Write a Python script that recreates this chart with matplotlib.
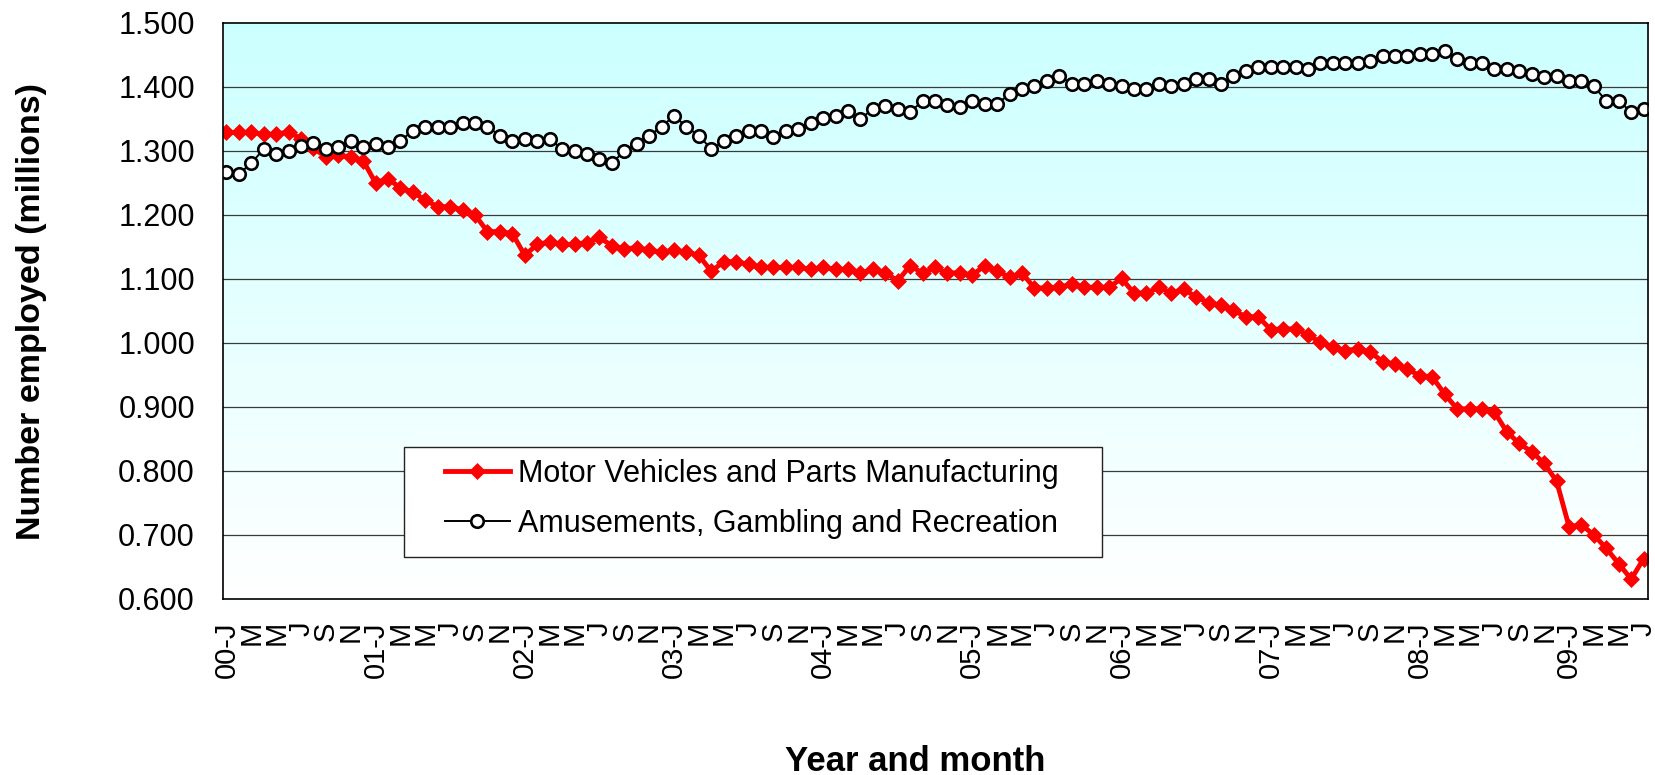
import numpy as np
import matplotlib
matplotlib.use("Agg")
import matplotlib.pyplot as plt
from matplotlib.patches import Rectangle

plt.rcParams['font.family'] = ['Liberation Sans', 'DejaVu Sans']

# Monthly employment, Jan 2000 - Jul 2009 (millions)
motor_vehicles = [
    1.329, 1.329, 1.329, 1.326, 1.326, 1.330, 1.319, 1.304, 1.291, 1.293, 1.291, 1.285,
    1.250, 1.257, 1.242, 1.236, 1.223, 1.213, 1.213, 1.208, 1.200, 1.174, 1.174, 1.171,
    1.137, 1.154, 1.158, 1.154, 1.154, 1.157, 1.165, 1.152, 1.147, 1.149, 1.145, 1.142,
    1.145, 1.142, 1.137, 1.112, 1.127, 1.127, 1.123, 1.118, 1.118, 1.118, 1.118, 1.115,
    1.118, 1.115, 1.115, 1.109, 1.115, 1.110, 1.097, 1.121, 1.109, 1.118, 1.109, 1.110,
    1.106, 1.121, 1.112, 1.103, 1.109, 1.086, 1.086, 1.087, 1.092, 1.087, 1.087, 1.087,
    1.101, 1.078, 1.078, 1.087, 1.078, 1.084, 1.072, 1.063, 1.059, 1.051, 1.041, 1.041,
    1.021, 1.022, 1.022, 1.013, 1.001, 0.993, 0.988, 0.991, 0.986, 0.971, 0.967, 0.959,
    0.949, 0.947, 0.920, 0.897, 0.897, 0.897, 0.892, 0.861, 0.843, 0.830, 0.812, 0.784,
    0.713, 0.716, 0.700, 0.679, 0.655, 0.631, 0.663,
]
amusements = [
    1.267, 1.264, 1.281, 1.303, 1.296, 1.300, 1.308, 1.312, 1.303, 1.307, 1.316, 1.306,
    1.311, 1.306, 1.316, 1.332, 1.338, 1.338, 1.338, 1.343, 1.343, 1.338, 1.324, 1.315,
    1.318, 1.316, 1.319, 1.303, 1.300, 1.296, 1.288, 1.281, 1.300, 1.311, 1.324, 1.338,
    1.355, 1.338, 1.324, 1.303, 1.315, 1.324, 1.331, 1.331, 1.322, 1.331, 1.335, 1.343,
    1.351, 1.354, 1.362, 1.350, 1.366, 1.370, 1.366, 1.361, 1.378, 1.378, 1.372, 1.369,
    1.378, 1.374, 1.374, 1.389, 1.397, 1.402, 1.409, 1.417, 1.405, 1.405, 1.409, 1.405,
    1.401, 1.397, 1.397, 1.405, 1.402, 1.405, 1.413, 1.413, 1.405, 1.417, 1.425, 1.432,
    1.432, 1.432, 1.432, 1.428, 1.437, 1.437, 1.437, 1.437, 1.440, 1.448, 1.448, 1.448,
    1.452, 1.452, 1.457, 1.443, 1.437, 1.437, 1.428, 1.428, 1.425, 1.420, 1.416, 1.417,
    1.409, 1.409, 1.401, 1.378, 1.378, 1.361, 1.366,
]
series_names = ["Motor Vehicles and Parts Manufacturing",
                "Amusements, Gambling and Recreation"]
years = ["00", "01", "02", "03", "04", "05", "06", "07", "08", "09"]
month_letters = ["J", "M", "M", "J", "S", "N"]  # every second month

n = len(motor_vehicles)
x = np.arange(n)

tick_pos = list(range(0, n, 2))
tick_labels = []
for p in tick_pos:
    yr = years[p // 12]
    m = month_letters[(p % 12) // 2]
    tick_labels.append(f"{yr}-{m}" if p % 12 == 0 else m)

W, H = 1656, 775
fig = plt.figure(figsize=(W / 100, H / 100), dpi=100)
L, R, T, B = 222.7, 1648, 23, 599
ax = fig.add_axes([L / W, 1 - B / H, (R - L) / W, (B - T) / H])

xlim = (-0.3, n - 1 + 0.35)
ylim = (0.6, 1.5)
ax.set_xlim(*xlim)
ax.set_ylim(*ylim)

# vertical cyan-to-white gradient background
grad = np.linspace(0, 1, 256)[:, None]
top_c = np.array([0.80, 1.0, 1.0])
bot_c = np.array([1.0, 1.0, 1.0])
img = top_c[None, None, :] * (1 - grad[:, :, None]) + bot_c[None, None, :] * grad[:, :, None]
img = np.repeat(img, 2, axis=1)
ax.imshow(img, extent=[xlim[0], xlim[1], ylim[0], ylim[1]], aspect='auto',
          origin='upper', zorder=0, interpolation='bilinear')

yticks = np.round(np.arange(0.6, 1.5001, 0.1), 1)
ax.set_yticks(yticks)
ax.set_yticklabels([f"{v:.3f}" for v in yticks])
for v in yticks[1:-1]:
    ax.axhline(v, color='#3a3a3a', lw=0.9, zorder=1)

ax.plot(x, motor_vehicles, color='#ff0000', lw=3.5, marker='D', ms=8.5,
        mfc='#ff0000', mec='#ff0000', mew=0.5, zorder=3, label=series_names[0])
ax.plot(x, amusements, color='black', lw=1.4, marker='o', ms=9,
        mfc='white', mec='black', mew=1.9, zorder=4, label=series_names[1])

ax.set_xticks(tick_pos)
ax.set_xticklabels(tick_labels, rotation=90)
ax.tick_params(axis='x', length=0, pad=16, labelsize=21)
ax.tick_params(axis='y', length=0, pad=20, labelsize=22)

for s in ax.spines.values():
    s.set_color('black')
    s.set_linewidth(1.2)
    s.set_zorder(6)

# legend box
lx0 = (404 - L) / (R - L)
lx1 = (1102 - L) / (R - L)
ly1 = 1 - (447 - T) / (B - T)
ly0 = 1 - (557 - T) / (B - T)
ax.add_patch(Rectangle((lx0, ly0), lx1 - lx0, ly1 - ly0, transform=ax.transAxes,
                       facecolor='white', edgecolor='#222222', lw=1.0, zorder=7))
leg_fs = 22
fs_px = leg_fs * 100 / 72
leg = ax.legend(loc='center left',
                bbox_to_anchor=((445 - L) / (R - L), 1 - (499 - T) / (B - T)),
                frameon=False, fontsize=leg_fs, borderpad=0, borderaxespad=0,
                handlelength=65 / fs_px, handletextpad=8 / fs_px,
                labelspacing=0.65, numpoints=1)
leg.set_zorder(8)

fig.text(32 / W, 1 - 311 / H, "Number employed (millions)", rotation=90,
         ha='center', va='center', fontsize=24.5, fontweight='bold')
fig.text(915 / W, 1 - 771 / H, "Year and month", ha='center', va='baseline',
         fontsize=25, fontweight='bold')

fig.savefig("out.png", dpi=100, facecolor='white')
